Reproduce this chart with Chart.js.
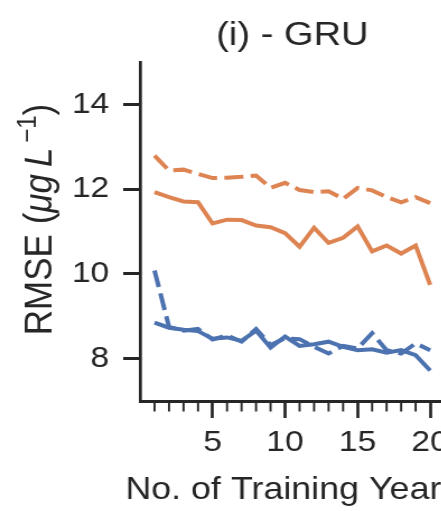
<!DOCTYPE html>
<html>
<head>
<meta charset="utf-8">
<script src="https://cdn.jsdelivr.net/npm/chart.js@4.4.1/dist/chart.umd.min.js"></script>
<style>
  html, body { margin: 0; padding: 0; background: #fff; overflow: hidden; }
  /* the figure is drawn slightly wider than tall, so stretch the canvas horizontally */
  #wrap { width: 420px; height: 511px; transform: scaleX(1.12); transform-origin: 0 0; }
</style>
</head>
<body>
<div id="wrap"><canvas id="gruChart"></canvas></div>
<script>
// training years on the x axis
const years = [1, 2, 3, 4, 5, 6, 7, 8, 9, 10, 11, 12, 13, 14, 15, 16, 17, 18, 19, 20];

// RMSE per number of training years
const orangeSolid  = [11.93, 11.81, 11.71, 11.69, 11.19, 11.28, 11.27, 11.14, 11.10, 10.96,
                      10.64, 11.09, 10.73, 10.85, 11.12, 10.53, 10.67, 10.48, 10.67, 9.74];
const orangeDashed = [12.79, 12.44, 12.46, 12.36, 12.26, 12.27, 12.29, 12.32, 12.03, 12.15,
                      11.98, 11.93, 11.95, 11.77, 12.03, 11.97, 11.81, 11.69, 11.81, 11.67];
const blueSolid    = [8.85, 8.73, 8.68, 8.65, 8.47, 8.50, 8.42, 8.66, 8.26, 8.52,
                      8.30, 8.34, 8.40, 8.28, 8.20, 8.22, 8.14, 8.20, 8.08, 7.72];
const blueDashed   = [10.08, 8.75, 8.66, 8.70, 8.45, 8.55, 8.40, 8.70, 8.32, 8.48,
                      8.46, 8.28, 8.12, 8.30, 8.24, 8.60, 8.20, 8.12, 8.36, 8.20];

// axis ticks
const xMajorTicks = [5, 10, 15, 20];
const xMinorTicks = [1, 2, 3, 4, 6, 7, 8, 9, 11, 12, 13, 14, 16, 17, 18, 19];
const yTicks = [8, 10, 12, 14];

const titleText = '(i) - GRU';
const xTitle = 'No. of Training Years';

const ink = '#262626';
const orange = '#dd8452';
const blue = '#4c72b0';
const fontFamily = '"Liberation Sans", Arial, sans-serif';
const dash = [17, 6.5];

function toPoints(values) {
  return values.map((v, i) => ({ x: years[i], y: v }));
}

// small ticks between the labelled ones
const minorTickPlugin = {
  id: 'minorTicks',
  afterDraw(chart) {
    const { ctx, chartArea, scales: { x } } = chart;
    ctx.save();
    ctx.strokeStyle = ink;
    ctx.lineWidth = 1.9;
    xMinorTicks.forEach(v => {
      const px = x.getPixelForValue(v);
      ctx.beginPath();
      ctx.moveTo(px, chartArea.bottom);
      ctx.lineTo(px, chartArea.bottom + 10.5);
      ctx.stroke();
    });
    ctx.restore();
  }
};

// panel title and x label, both centred on the plot area (no width squeeze)
const textPlugin = {
  id: 'panelText',
  afterDraw(chart) {
    const { ctx, chartArea } = chart;
    const cx = (chartArea.left + chartArea.right) / 2;
    ctx.save();
    ctx.fillStyle = ink;
    ctx.textAlign = 'center';
    ctx.textBaseline = 'alphabetic';
    ctx.font = '34px ' + fontFamily;
    ctx.fillText(titleText, cx, 44.5);
    ctx.font = '32px ' + fontFamily;
    ctx.fillText(xTitle, cx, 498.5);
    ctx.restore();
  }
};

// y label with italic units and a superscript
const yTitlePlugin = {
  id: 'yTitle',
  afterDraw(chart) {
    const { ctx, chartArea } = chart;
    const parts = [
      { t: 'RMSE (', font: '35px ' + fontFamily, dy: 0 },
      { t: '\u03bcg', font: 'italic 35px ' + fontFamily, dy: 0 },
      { t: '\u2009', font: '35px ' + fontFamily, dy: 0 },
      { t: 'L', font: 'italic 35px ' + fontFamily, dy: 0 },
      { t: '\u2009\u22121', font: '24px ' + fontFamily, dy: -14 },
      { t: ')', font: '35px ' + fontFamily, dy: 0 }
    ];
    ctx.save();
    ctx.fillStyle = ink;
    ctx.textBaseline = 'alphabetic';
    ctx.textAlign = 'left';
    let total = 0;
    parts.forEach(p => { ctx.font = p.font; p.w = ctx.measureText(p.t).width; total += p.w; });
    ctx.translate(46, (chartArea.top + chartArea.bottom) / 2 - 12);
    ctx.rotate(-Math.PI / 2);
    let x = -total / 2;
    parts.forEach(p => {
      ctx.font = p.font;
      ctx.fillText(p.t, x, p.dy);
      x += p.w;
    });
    ctx.restore();
  }
};

const lineStyle = { borderWidth: 4, pointRadius: 0, tension: 0, fill: false };

new Chart(document.getElementById('gruChart'), {
  type: 'line',
  data: {
    datasets: [
      { data: toPoints(orangeSolid), borderColor: orange, ...lineStyle },
      { data: toPoints(orangeDashed), borderColor: orange, borderDash: dash, ...lineStyle },
      { data: toPoints(blueSolid), borderColor: blue, ...lineStyle },
      { data: toPoints(blueDashed), borderColor: blue, borderDash: dash, ...lineStyle }
    ]
  },
  options: {
    responsive: true,
    maintainAspectRatio: false,
    animation: false,
    layout: { padding: { top: 62, right: 23, left: 0, bottom: 0 } },
    plugins: {
      legend: { display: false },
      tooltip: { enabled: false }
    },
    scales: {
      x: {
        type: 'linear',
        min: 0,
        max: 21,
        afterBuildTicks: scale => { scale.ticks = xMajorTicks.map(v => ({ value: v })); },
        afterFit: scale => { scale.height = 110; },
        grid: { drawOnChartArea: false, color: ink, tickLength: 17, tickWidth: 2.7 },
        border: { color: ink, width: 3 },
        ticks: {
          color: ink,
          padding: 7,
          maxRotation: 0,
          font: { family: fontFamily, size: 30 }
        }
      },
      y: {
        min: 7,
        max: 15,
        afterBuildTicks: scale => { scale.ticks = yTicks.map(v => ({ value: v })); },
        afterFit: scale => { scale.width = 125; },
        grid: { drawOnChartArea: false, color: ink, tickLength: 15, tickWidth: 3 },
        border: { color: ink, width: 2.7 },
        ticks: {
          color: ink,
          padding: 12.5,
          font: { family: fontFamily, size: 30 }
        }
      }
    }
  },
  plugins: [minorTickPlugin, textPlugin, yTitlePlugin]
});
</script>
</body>
</html>
